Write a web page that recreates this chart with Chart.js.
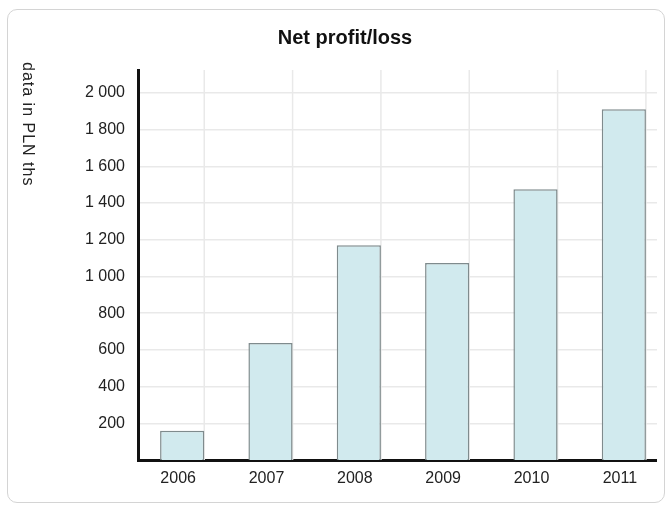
<!DOCTYPE html>
<html>
<head>
<meta charset="utf-8">
<script src="https://cdn.jsdelivr.net/npm/chart.js@4.4.1/dist/chart.umd.min.js"></script>
<style>
  html, body { margin: 0; padding: 0; background: #ffffff; }
  body { width: 670px; height: 507px; position: relative; overflow: hidden; font-family: "Liberation Sans", Arial, sans-serif; }
  #frame { position: absolute; left: 7px; top: 9px; width: 658px; height: 494px; border: 1px solid #d4d4d4; border-radius: 10px; box-sizing: border-box; }
  #clip { position: absolute; left: 0; top: 0; width: 657px; height: 507px; overflow: hidden; }
  #c { position: absolute; left: 0; top: 0; }
  #ytitle { position: absolute; left: 20px; top: 62px; writing-mode: vertical-rl; font-size: 16px; line-height: 16px; letter-spacing: 1px; color: #222; font-family: "Liberation Sans", Arial, sans-serif; white-space: nowrap; }
</style>
</head>
<body>
<div id="frame"></div>
<div id="clip"><canvas id="c" width="668" height="507"></canvas></div>
<div id="ytitle">data in PLN ths</div>
<script>
const categories = ['2006', '2007', '2008', '2009', '2010', '2011'];
const netProfit = [160, 638, 1170, 1074, 1475, 1911];
const yTickValues = [200, 400, 600, 800, 1000, 1200, 1400, 1600, 1800, 2000];
const chartTitle = 'Net profit/loss';

function fmt(v) {
  return String(v).replace(/\B(?=(\d{3})+(?!\d))/g, ' ');
}

const vGrid = {
  id: 'vGrid',
  beforeDatasetsDraw(chart) {
    const meta = chart.getDatasetMeta(0);
    const a = chart.chartArea;
    const ctx = chart.ctx;
    ctx.save();
    ctx.strokeStyle = '#e9e9e9';
    ctx.lineWidth = 1.5;
    meta.data.forEach(el => {
      const x = el.x + el.width / 2;
      ctx.beginPath();
      ctx.moveTo(x, a.top);
      ctx.lineTo(x, a.bottom);
      ctx.stroke();
    });
    ctx.restore();
  }
};

new Chart(document.getElementById('c'), {
  type: 'bar',
  data: {
    labels: categories,
    datasets: [{
      data: netProfit,
      backgroundColor: '#d1eaee',
      borderColor: '#7f8b8d',
      borderWidth: 1.5,
      barPercentage: 0.5,
      categoryPercentage: 1.0
    }]
  },
  options: {
    responsive: false,
    animation: false,
    layout: { padding: { left: 22, right: 0, top: 0, bottom: 0 } },
    plugins: {
      legend: { display: false },
      tooltip: { enabled: false },
      title: {
        display: true,
        text: chartTitle,
        color: '#111',
        font: { family: 'Liberation Sans', size: 20, weight: 'bold', lineHeight: 1.2 },
        padding: { top: 26, bottom: 20 }
      }
    },
    scales: {
      x: {
        grid: { display: false, drawTicks: false },
        border: { display: true, color: '#111', width: 3 },
        ticks: { color: '#222', font: { family: 'Liberation Sans', size: 16 }, padding: 9, maxRotation: 0, labelOffset: -4 },
        afterFit(scale) { scale.height = 47; }
      },
      y: {
        min: 0,
        max: 2125,
        grid: { color: '#e9e9e9', lineWidth: 1.5, drawTicks: false },
        border: { display: true, color: '#111', width: 3 },
        afterBuildTicks(scale) { scale.ticks = yTickValues.map(v => ({ value: v })); },
        ticks: { color: '#222', font: { family: 'Liberation Sans', size: 16 }, padding: 13, callback: v => fmt(v) },
        afterFit(scale) { scale.width = 116; }
      }
    }
  },
  plugins: [vGrid]
});
</script>
</body>
</html>
